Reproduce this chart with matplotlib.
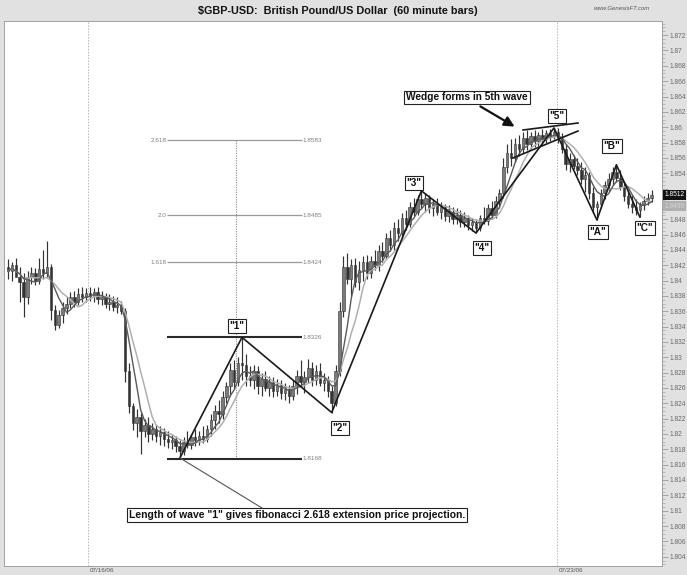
import matplotlib
matplotlib.use('Agg')
import matplotlib.pyplot as plt
import numpy as np
import pandas as pd
from matplotlib.patches import Rectangle
from matplotlib.ticker import MultipleLocator, FuncFormatter
import matplotlib.transforms as mtransforms

plt.rcParams['font.family'] = ['Liberation Sans', 'DejaVu Sans']

# ---------------- data (60 minute bars, GBP/USD) ----------------
opens = [
 1.8418,1.8412,1.8420,1.8405,1.8398,1.8378,1.8405,1.8410,1.8400,1.8415,
 1.8410,1.8418,1.8362,1.8342,1.8355,1.8364,1.8370,1.8378,1.8372,1.8383,
 1.8378,1.8384,1.8380,1.8385,1.8376,1.8378,1.8370,1.8372,1.8366,1.8368,
 1.8360,1.8282,1.8236,1.8214,1.8222,1.8204,1.8212,1.8200,1.8206,1.8198,
 1.8202,1.8194,1.8190,1.8192,1.8184,1.8178,1.8190,1.8186,1.8196,1.8192,
 1.8198,1.8194,1.8206,1.8218,1.8230,1.8226,1.8248,1.8262,1.8284,1.8268,
 1.8292,1.8290,1.8276,1.8270,1.8282,1.8262,1.8272,1.8260,1.8268,1.8256,
 1.8264,1.8254,1.8258,1.8250,1.8262,1.8276,1.8268,1.8274,1.8286,1.8270,
 1.8282,1.8266,1.8270,1.8256,1.8240,1.8282,1.8360,1.8418,1.8402,1.8420,
 1.8398,1.8414,1.8424,1.8410,1.8426,1.8420,1.8438,1.8432,1.8456,1.8446,
 1.8468,1.8462,1.8482,1.8474,1.8496,1.8490,1.8506,1.8500,1.8508,1.8494,
 1.8500,1.8490,1.8496,1.8484,1.8490,1.8480,1.8486,1.8476,1.8482,1.8472,
 1.8476,1.8468,1.8482,1.8478,1.8494,1.8486,1.8504,1.8514,1.8548,1.8566,
 1.8560,1.8578,1.8572,1.8586,1.8578,1.8588,1.8582,1.8590,1.8584,1.8592,
 1.8588,1.8594,1.8586,1.8572,1.8552,1.8558,1.8550,1.8544,1.8532,1.8538,
 1.8514,1.8496,1.8500,1.8514,1.8524,1.8532,1.8542,1.8534,1.8522,1.8510,
 1.8500,1.8496,1.8492,1.8498,1.8504,1.8508]
highs = [
 1.8428,1.8424,1.8430,1.8418,1.8410,1.8412,1.8418,1.8416,1.8430,1.8440,
 1.8452,1.8422,1.8368,1.8362,1.8372,1.8378,1.8385,1.8386,1.8390,1.8392,
 1.8390,1.8392,1.8390,1.8392,1.8386,1.8384,1.8382,1.8380,1.8378,1.8374,
 1.8364,1.8292,1.8240,1.8232,1.8228,1.8220,1.8222,1.8214,1.8212,1.8210,
 1.8208,1.8204,1.8200,1.8198,1.8192,1.8196,1.8204,1.8200,1.8206,1.8204,
 1.8210,1.8212,1.8226,1.8238,1.8244,1.8256,1.8268,1.8292,1.8296,1.8300,
 1.8326,1.8304,1.8288,1.8290,1.8288,1.8280,1.8282,1.8276,1.8274,1.8272,
 1.8270,1.8266,1.8264,1.8270,1.8284,1.8296,1.8282,1.8298,1.8294,1.8290,
 1.8292,1.8280,1.8276,1.8262,1.8290,1.8372,1.8432,1.8436,1.8428,1.8430,
 1.8426,1.8432,1.8434,1.8432,1.8440,1.8446,1.8450,1.8462,1.8466,1.8476,
 1.8480,1.8488,1.8492,1.8502,1.8508,1.8512,1.8517,1.8514,1.8512,1.8506,
 1.8508,1.8502,1.8500,1.8498,1.8496,1.8494,1.8492,1.8490,1.8486,1.8482,
 1.8480,1.8486,1.8496,1.8500,1.8504,1.8510,1.8520,1.8560,1.8578,1.8584,
 1.8586,1.8590,1.8594,1.8596,1.8594,1.8596,1.8594,1.8597,1.8596,1.8598,
 1.8599,1.8599,1.8592,1.8578,1.8566,1.8564,1.8560,1.8554,1.8548,1.8542,
 1.8522,1.8504,1.8520,1.8530,1.8540,1.8548,1.8551,1.8544,1.8530,1.8518,
 1.8512,1.8506,1.8502,1.8510,1.8514,1.8518]
lows = [
 1.8402,1.8400,1.8408,1.8372,1.8352,1.8370,1.8396,1.8394,1.8395,1.8402,
 1.8404,1.8348,1.8335,1.8338,1.8345,1.8356,1.8364,1.8366,1.8368,1.8372,
 1.8372,1.8374,1.8372,1.8370,1.8368,1.8364,1.8362,1.8360,1.8358,1.8356,
 1.8268,1.8228,1.8205,1.8196,1.8174,1.8196,1.8190,1.8192,1.8190,1.8186,
 1.8184,1.8182,1.8180,1.8176,1.8168,1.8172,1.8182,1.8180,1.8184,1.8186,
 1.8188,1.8190,1.8198,1.8206,1.8214,1.8220,1.8240,1.8250,1.8258,1.8262,
 1.8270,1.8262,1.8262,1.8258,1.8252,1.8250,1.8256,1.8250,1.8248,1.8250,
 1.8246,1.8244,1.8240,1.8244,1.8252,1.8264,1.8254,1.8266,1.8262,1.8264,
 1.8262,1.8256,1.8248,1.8228,1.8236,1.8276,1.8352,1.8396,1.8380,1.8392,
 1.8388,1.8400,1.8402,1.8404,1.8414,1.8412,1.8424,1.8428,1.8438,1.8440,
 1.8452,1.8456,1.8466,1.8470,1.8484,1.8486,1.8494,1.8490,1.8488,1.8484,
 1.8486,1.8480,1.8478,1.8476,1.8474,1.8474,1.8470,1.8470,1.8466,1.8464,
 1.8462,1.8464,1.8474,1.8472,1.8480,1.8482,1.8494,1.8508,1.8540,1.8550,
 1.8554,1.8562,1.8566,1.8570,1.8572,1.8574,1.8576,1.8578,1.8580,1.8582,
 1.8584,1.8580,1.8566,1.8544,1.8542,1.8546,1.8538,1.8526,1.8516,1.8506,
 1.8488,1.8479,1.8494,1.8506,1.8516,1.8524,1.8528,1.8518,1.8504,1.8494,
 1.8488,1.8486,1.8483,1.8492,1.8498,1.8502]
closes = [
 1.8412,1.8420,1.8405,1.8398,1.8378,1.8405,1.8410,1.8400,1.8415,1.8410,
 1.8418,1.8362,1.8342,1.8355,1.8364,1.8370,1.8378,1.8372,1.8383,1.8378,
 1.8384,1.8380,1.8385,1.8376,1.8378,1.8370,1.8372,1.8366,1.8368,1.8360,
 1.8282,1.8236,1.8214,1.8222,1.8204,1.8212,1.8200,1.8206,1.8198,1.8202,
 1.8194,1.8190,1.8192,1.8184,1.8178,1.8190,1.8186,1.8196,1.8192,1.8198,
 1.8194,1.8206,1.8218,1.8230,1.8226,1.8248,1.8262,1.8284,1.8268,1.8292,
 1.8290,1.8276,1.8270,1.8282,1.8262,1.8272,1.8260,1.8268,1.8256,1.8264,
 1.8254,1.8258,1.8250,1.8262,1.8276,1.8268,1.8274,1.8286,1.8270,1.8282,
 1.8266,1.8270,1.8256,1.8240,1.8282,1.8360,1.8418,1.8402,1.8420,1.8398,
 1.8414,1.8424,1.8410,1.8426,1.8420,1.8438,1.8432,1.8456,1.8446,1.8468,
 1.8462,1.8482,1.8474,1.8496,1.8490,1.8506,1.8500,1.8508,1.8494,1.8500,
 1.8490,1.8496,1.8484,1.8490,1.8480,1.8486,1.8476,1.8482,1.8472,1.8476,
 1.8468,1.8482,1.8478,1.8494,1.8486,1.8504,1.8514,1.8548,1.8566,1.8560,
 1.8578,1.8572,1.8586,1.8578,1.8588,1.8582,1.8590,1.8584,1.8592,1.8588,
 1.8594,1.8586,1.8572,1.8552,1.8558,1.8550,1.8544,1.8532,1.8538,1.8514,
 1.8496,1.8500,1.8514,1.8524,1.8532,1.8542,1.8534,1.8522,1.8510,1.8500,
 1.8496,1.8492,1.8498,1.8504,1.8508,1.8512]

date_labels = ['07/16/06', '07/23/06']
date_bars = [20.5, 140.8]

fib_ratio_labels = ['2.618', '2.0', '1.618']
fib_prices = [1.8583, 1.8485, 1.8424]
fib_price_labels = ['1.8583', '1.8485', '1.8424']
wave1_prices = [1.8326, 1.8168]
wave1_price_labels = ['1.8326', '1.8168']

wave_bars = [44, 60, 83, 106, 120, 140, 151, 156, 162]
wave_prices = [1.8168, 1.8326, 1.8228, 1.8517, 1.8462, 1.8599, 1.8479, 1.8551, 1.8483]
wave_labels = ['"1"', '"2"', '"3"', '"4"', '"5"', '"A"', '"B"', '"C"']

last_price = 1.8512
ma_last_label = '1.8499'
hidden_ticks = [1.852, 1.850]   # covered by the price boxes on the axis

title = '$GBP-USD:  British Pound/US Dollar  (60 minute bars)'

# ---------------- geometry helpers (pixel -> data) ----------------
W, H = 687, 575
def bx(xp):
    return (xp - 8) / 3.9
def py(yp):
    return 1.804 + (556.7 - yp) / 7670.0

fig = plt.figure(figsize=(W / 100, H / 100), dpi=100, facecolor='#e1e1e1')
ax_l, ax_r, ax_t, ax_b = 4, 662, 21, 566
ax = fig.add_axes([ax_l / W, (H - ax_b) / H, (ax_r - ax_l) / W, (ax_b - ax_t) / H])
ax.set_facecolor('white')
ax.set_xlim(bx(ax_l), bx(ax_r))
ax.set_ylim(py(ax_b), py(ax_t))

n = len(closes)
idx = np.arange(n)

# date separators
for b in date_bars:
    ax.axvline(b, color='#b8b8b8', ls=(0, (1.5, 1.5)), lw=0.7, zorder=1)

# candles
o = np.array(opens); h = np.array(highs); l = np.array(lows); c = np.array(closes)
ax.vlines(idx, l, h, color='#333333', lw=0.85, zorder=3)
for i in range(n):
    lo, hi = min(o[i], c[i]), max(o[i], c[i])
    body = max(hi - lo, 0.00008)
    fc = '#333333' if c[i] < o[i] else '#7a7a7a'
    ax.add_patch(Rectangle((i - 0.33, lo), 0.66, body, facecolor=fc,
                           edgecolor='#333333', lw=0.4, zorder=3))

# moving averages
cs = pd.Series(closes)
ma_fast = cs.rolling(5, min_periods=1).mean()
ma_slow = cs.rolling(8, min_periods=1).mean()
ax.plot(idx, ma_slow, color='#b0b0b0', lw=1.1, zorder=4)
ax.plot(idx, ma_fast, color='#5a5a5a', lw=1.0, zorder=4)

# fibonacci projection
x0, x1 = bx(167), bx(302)
ax.hlines(fib_prices, x0, x1, color='#9a9a9a', lw=0.9, zorder=2)
ax.hlines(wave1_prices, x0, x1, color='#2a2a2a', lw=1.5, zorder=5)
for p, lab, plab in zip(fib_prices, fib_ratio_labels, fib_price_labels):
    ax.text(x0 - 0.2, p, lab, ha='right', va='center', fontsize=4.6, color='#808080')
    ax.text(x1 + 0.2, p, plab, ha='left', va='center', fontsize=4.6, color='#808080')
for p, plab in zip(wave1_prices, wave1_price_labels):
    ax.text(x1 + 0.2, p, plab, ha='left', va='center', fontsize=4.6, color='#808080')
ax.vlines(bx(236), wave1_prices[1], fib_prices[0], color='#8a8a8a',
          ls=(0, (1, 1.2)), lw=0.8, zorder=2)

# wave count lines
ax.plot(wave_bars, wave_prices, color='#1a1a1a', lw=1.2, zorder=6)
# wedge lines
ax.plot([bx(523), bx(578)], [py(130), py(123)], color='#1a1a1a', lw=1.2, zorder=6)
ax.plot([bx(513), bx(578)], [py(158), py(131)], color='#1a1a1a', lw=1.2, zorder=6)
# pointer from the wave start to the note
ax.plot([bx(180), bx(262)], [py(458), py(508)], color='#555555', lw=0.8, zorder=6)

box = dict(boxstyle='square,pad=0.18', facecolor='white', edgecolor='#222222', lw=0.8)
label_px = [(237, 326), (340, 428), (414, 183), (482, 248), (557, 116),
            (598, 232), (612, 146), (645, 228)]
for lab, (xp, yp) in zip(wave_labels, label_px):
    ax.text(bx(xp), py(yp), lab, ha='center', va='center', fontsize=7.2,
            fontweight='bold', color='#111111', bbox=box, zorder=8)

ax.text(bx(467), py(97.5), 'Wedge forms in 5th wave', ha='center', va='center',
        fontsize=7.3, fontweight='bold', color='#111111', bbox=box, zorder=8)
ax.annotate('', xy=(bx(517), py(128)), xytext=(bx(478), py(105)),
            arrowprops=dict(arrowstyle='-|>,head_length=0.6,head_width=0.3',
                            color='#111111', lw=1.6), zorder=8)
ax.text(bx(297), py(515), 'Length of wave "1" gives fibonacci 2.618 extension price projection.',
        ha='center', va='center', fontsize=7.5, fontweight='bold', color='#111111',
        bbox=box, zorder=8)

# right price axis
def fmt(v, pos):
    if any(abs(v - t) < 1e-7 for t in hidden_ticks):
        return ''
    return f"{v:.3f}".rstrip('0').rstrip('.')
ax.yaxis.tick_right()
ax.yaxis.set_major_locator(MultipleLocator(0.002))
ax.yaxis.set_minor_locator(MultipleLocator(0.0005))
ax.yaxis.set_major_formatter(FuncFormatter(fmt))
ax.tick_params(axis='y', which='major', labelsize=4.8, labelcolor='#6a6a6a',
               color='#9a9a9a', length=4, width=0.6, pad=1.5)
ax.tick_params(axis='y', which='minor', color='#a8a8a8', length=2, width=0.5)
ax.set_xticks([])
for s in ax.spines.values():
    s.set_color('#a0a0a0'); s.set_linewidth(0.7)

trans = mtransforms.blended_transform_factory(ax.transAxes, ax.transData)
ax.text(1.004, last_price, '1.8512', transform=trans, ha='left', va='center',
        fontsize=4.8, color='white',
        bbox=dict(boxstyle='square,pad=0.25', facecolor='#111111', edgecolor='none'), zorder=9)
ax.text(1.004, py(206), ma_last_label, transform=trans, ha='left', va='center',
        fontsize=4.8, color='#d8d8d8',
        bbox=dict(boxstyle='square,pad=0.25', facecolor='#b0b0b0', edgecolor='none'), zorder=9)

# header & footer texts
fig.text(338 / W, 1 - 11 / H, title, ha='center', va='center', fontsize=7.8,
         fontweight='bold', color='#111111')
fig.text(622 / W, 1 - 9 / H, 'www.GenesisFT.com', ha='center', va='center',
         fontsize=4.3, style='italic', color='#555555')
for b, lab in zip(date_bars, date_labels):
    xp = 8 + 3.9 * b
    fig.text((xp + 2) / W, 1 - 571 / H, lab, ha='left', va='center',
             fontsize=4.5, color='#555555')

fig.savefig('out.png', dpi=100, facecolor=fig.get_facecolor())
